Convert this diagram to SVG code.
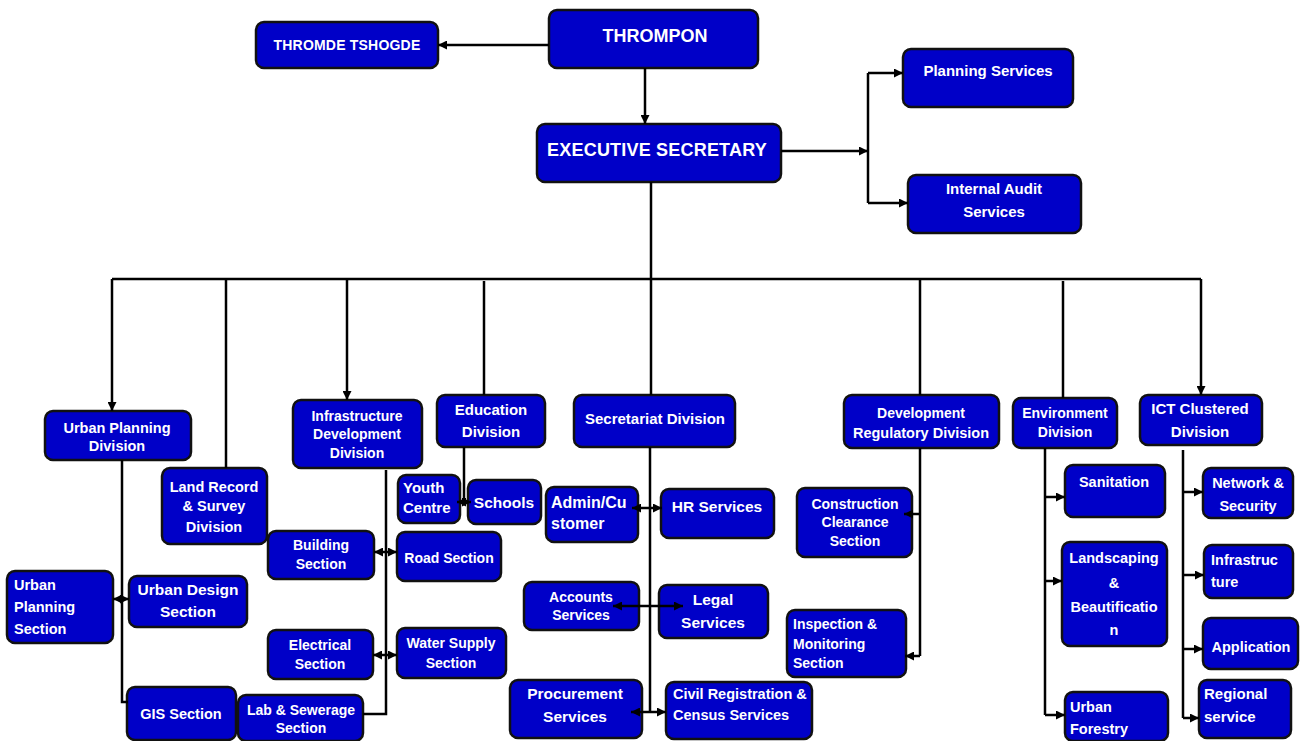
<svg xmlns="http://www.w3.org/2000/svg" width="1304" height="741" viewBox="0 0 1304 741">
<defs>
<marker id="ah" markerUnits="userSpaceOnUse" markerWidth="9" markerHeight="9" refX="9" refY="4.5" orient="auto">
<path d="M0,0 L9,4.5 L0,9 z" fill="#000"/>
</marker>
<style>
.n rect{fill:#0000c8;stroke:#111;stroke-width:2.5}
.n text{fill:#fff;font-family:"Liberation Sans",Arial,sans-serif;font-weight:bold;font-size:14.5px;text-anchor:middle}
.n text.l{text-anchor:start}
.c path{fill:none;stroke:#000;stroke-width:2.5}
.c path.a{marker-end:url(#ah)}
</style>
</defs>
<rect width="1304" height="741" fill="#fff"/>

<g id="thromde" class="n"><rect x="256" y="22" width="182" height="46" rx="8"/><text x="347" y="50" style="font-size:14px;letter-spacing:0.2px">THROMDE TSHOGDE</text></g>
<g id="thrompon" class="n"><rect x="549" y="10" width="209" height="58" rx="8"/><text x="655" y="42" style="font-size:18px">THROMPON</text></g>
<g id="executive" class="n"><rect x="537" y="124" width="244" height="58" rx="8"/><text x="657" y="156" style="font-size:18px;letter-spacing:0.2px">EXECUTIVE SECRETARY</text></g>
<g id="planning" class="n"><rect x="903" y="49" width="170" height="58" rx="8"/><text x="988" y="76" style="font-size:15px">Planning Services</text></g>
<g id="audit" class="n"><rect x="908" y="175" width="173" height="58" rx="8"/><text x="994" y="194" style="font-size:15px">Internal Audit</text><text x="994" y="217" style="font-size:15px">Services</text></g>

<g id="urban-planning-div" class="n"><rect x="45" y="411" width="146" height="49" rx="8"/><text x="117" y="433">Urban Planning</text><text x="117" y="451">Division</text></g>
<g id="land-record" class="n"><rect x="162" y="468" width="105" height="76" rx="8"/><text x="214" y="492">Land Record</text><text x="214" y="511">&amp; Survey</text><text x="214" y="532">Division</text></g>
<g id="infra-dev" class="n"><rect x="293" y="400" width="129" height="68" rx="8"/><text x="357" y="421" style="font-size:14px">Infrastructure</text><text x="357" y="439" style="font-size:14px">Development</text><text x="357" y="458" style="font-size:14px">Division</text></g>
<g id="education" class="n"><rect x="437" y="395" width="108" height="52" rx="8"/><text x="491" y="415" style="font-size:15px">Education</text><text x="491" y="437" style="font-size:15px">Division</text></g>
<g id="secretariat" class="n"><rect x="574" y="395" width="161" height="52" rx="8"/><text x="655" y="424" style="font-size:15px">Secretariat Division</text></g>
<g id="dev-reg" class="n"><rect x="844" y="395" width="155" height="53" rx="8"/><text x="921" y="418" style="font-size:14px">Development</text><text x="921" y="438">Regulatory Division</text></g>
<g id="environment" class="n"><rect x="1013" y="398" width="104" height="50" rx="8"/><text x="1065" y="418" style="font-size:14px">Environment</text><text x="1065" y="437" style="font-size:14px">Division</text></g>
<g id="ict" class="n"><rect x="1140" y="395" width="122" height="50" rx="8"/><text x="1200" y="414" style="font-size:15px">ICT Clustered</text><text x="1200" y="437" style="font-size:15px">Division</text></g>

<g id="urban-planning-sec" class="n"><rect x="7" y="571" width="106" height="72" rx="8"/><text class="l" x="14" y="590">Urban</text><text class="l" x="14" y="612">Planning</text><text class="l" x="14" y="634">Section</text></g>
<g id="urban-design" class="n"><rect x="129" y="576" width="118" height="51" rx="8"/><text x="188" y="595" style="font-size:15.5px">Urban Design</text><text x="188" y="617" style="font-size:15.5px">Section</text></g>
<g id="gis" class="n"><rect x="127" y="687" width="109" height="53" rx="8"/><text x="181" y="719">GIS Section</text></g>

<g id="building" class="n"><rect x="268" y="531" width="106" height="48" rx="8"/><text x="321" y="550" style="font-size:14px">Building</text><text x="321" y="569" style="font-size:14px">Section</text></g>
<g id="road" class="n"><rect x="397" y="532" width="104" height="49" rx="8"/><text x="449" y="563" style="font-size:14px">Road Section</text></g>
<g id="electrical" class="n"><rect x="268" y="630" width="105" height="49" rx="8"/><text x="320" y="650" style="font-size:14px">Electrical</text><text x="320" y="669" style="font-size:14px">Section</text></g>
<g id="water" class="n"><rect x="397" y="628" width="109" height="50" rx="8"/><text x="451" y="648" style="font-size:14px">Water Supply</text><text x="451" y="668" style="font-size:14px">Section</text></g>
<g id="lab" class="n"><rect x="238" y="695" width="125" height="46" rx="8"/><text x="301" y="715" style="font-size:14px">Lab &amp; Sewerage</text><text x="301" y="733" style="font-size:14px">Section</text></g>

<g id="youth" class="n"><rect x="398" y="475" width="62" height="48" rx="8"/><text class="l" x="403" y="493" style="font-size:15px">Youth</text><text class="l" x="403" y="513" style="font-size:15px">Centre</text></g>
<g id="schools" class="n"><rect x="468" y="480" width="73" height="44" rx="8"/><text x="504" y="508" style="font-size:15.5px">Schools</text></g>

<g id="admin" class="n"><rect x="546" y="487" width="92" height="55" rx="8"/><text class="l" x="551" y="508" style="font-size:16px">Admin/Cu</text><text class="l" x="551" y="529" style="font-size:16px">stomer</text></g>
<g id="hr" class="n"><rect x="661" y="489" width="113" height="49" rx="8"/><text x="717" y="512" style="font-size:15.5px">HR Services</text></g>
<g id="accounts" class="n"><rect x="524" y="582" width="115" height="48" rx="8"/><text x="581" y="602" style="font-size:14px">Accounts</text><text x="581" y="620" style="font-size:14px">Services</text></g>
<g id="legal" class="n"><rect x="659" y="585" width="109" height="53" rx="8"/><text x="713" y="605" style="font-size:15.5px">Legal</text><text x="713" y="628" style="font-size:15.5px">Services</text></g>
<g id="procurement" class="n"><rect x="510" y="680" width="132" height="58" rx="8"/><text x="575" y="699" style="font-size:15.5px">Procurement</text><text x="575" y="722" style="font-size:15.5px">Services</text></g>
<g id="civil" class="n"><rect x="666" y="682" width="146" height="57" rx="8"/><text class="l" x="673" y="699">Civil Registration &amp;</text><text class="l" x="673" y="720">Census Services</text></g>

<g id="construction" class="n"><rect x="797" y="488" width="115" height="69" rx="8"/><text x="855" y="509" style="font-size:14px">Construction</text><text x="855" y="527" style="font-size:14px">Clearance</text><text x="855" y="546" style="font-size:14px">Section</text></g>
<g id="inspection" class="n"><rect x="787" y="610" width="119" height="67" rx="8"/><text class="l" x="793" y="629" style="font-size:14px">Inspection &amp;</text><text class="l" x="793" y="649" style="font-size:14px">Monitoring</text><text class="l" x="793" y="668" style="font-size:14px">Section</text></g>

<g id="sanitation" class="n"><rect x="1065" y="465" width="100" height="52" rx="8"/><text x="1114" y="487">Sanitation</text></g>
<g id="landscaping" class="n"><rect x="1062" y="542" width="105" height="104" rx="8"/><text x="1114" y="563">Landscaping</text><text x="1114" y="588">&amp;</text><text x="1114" y="612">Beautificatio</text><text x="1114" y="635">n</text></g>
<g id="urban-forestry" class="n"><rect x="1065" y="692" width="103" height="49" rx="8"/><text class="l" x="1070" y="712">Urban</text><text class="l" x="1070" y="734">Forestry</text></g>

<g id="network" class="n"><rect x="1203" y="468" width="90" height="50" rx="8"/><text x="1248" y="488">Network &amp;</text><text x="1248" y="511">Security</text></g>
<g id="infrastructure" class="n"><rect x="1204" y="545" width="89" height="53" rx="8"/><text class="l" x="1211" y="565">Infrastruc</text><text class="l" x="1211" y="587">ture</text></g>
<g id="application" class="n"><rect x="1203" y="618" width="95" height="51" rx="8"/><text x="1251" y="652">Application</text></g>
<g id="regional" class="n"><rect x="1199" y="680" width="92" height="58" rx="8"/><text class="l" x="1204" y="699" style="font-size:15px">Regional</text><text class="l" x="1204" y="722" style="font-size:15px">service</text></g>

<g id="connectors" class="c">
<path class="a" d="M549,45 H438"/>
<path class="a" d="M645,68 V124"/>
<path class="a" d="M781,151 H868"/>
<path d="M868,73 V203"/>
<path class="a" d="M868,73 H903"/>
<path class="a" d="M868,203 H908"/>
<path d="M651,182 V395"/>
<path d="M112,279 H1201"/>
<path class="a" d="M112,279 V411"/>
<path d="M226,279 V468"/>
<path class="a" d="M347,279 V400"/>
<path d="M484,281 V395"/>
<path d="M920,279 V395"/>
<path d="M1063,281 V398"/>
<path class="a" d="M1201,279 V395"/>
<path d="M122,460 V702 H128"/>
<path class="a" d="M122,599 H113"/>
<path class="a" d="M122,599 H129"/>
<path d="M386,470 V714 H363"/>
<path class="a" d="M386,552 H374"/>
<path class="a" d="M386,552 H397"/>
<path class="a" d="M386,655 H373"/>
<path class="a" d="M386,655 H397"/>
<path d="M464,447 V502"/>
<path class="a" d="M464,502 H457"/>
<path class="a" d="M464,502 H471"/>
<path d="M650,447 V713"/>
<path class="a" d="M650,508 H632"/>
<path class="a" d="M650,508 H662"/>
<path class="a" d="M650,606 H613"/>
<path class="a" d="M650,606 H683"/>
<path class="a" d="M650,712 H631"/>
<path class="a" d="M650,712 H666"/>
<path d="M920,448 V656"/>
<path class="a" d="M920,656 H905"/>
<path class="a" d="M920,514 H904"/>
<path d="M1045,448 V715"/>
<path class="a" d="M1045,715 H1065"/>
<path class="a" d="M1045,497 H1065"/>
<path class="a" d="M1045,581 H1062"/>
<path d="M1183,450 V718"/>
<path class="a" d="M1183,718 H1199"/>
<path class="a" d="M1183,492 H1203"/>
<path class="a" d="M1183,575 H1204"/>
<path class="a" d="M1183,649 H1203"/>
</g>
</svg>
